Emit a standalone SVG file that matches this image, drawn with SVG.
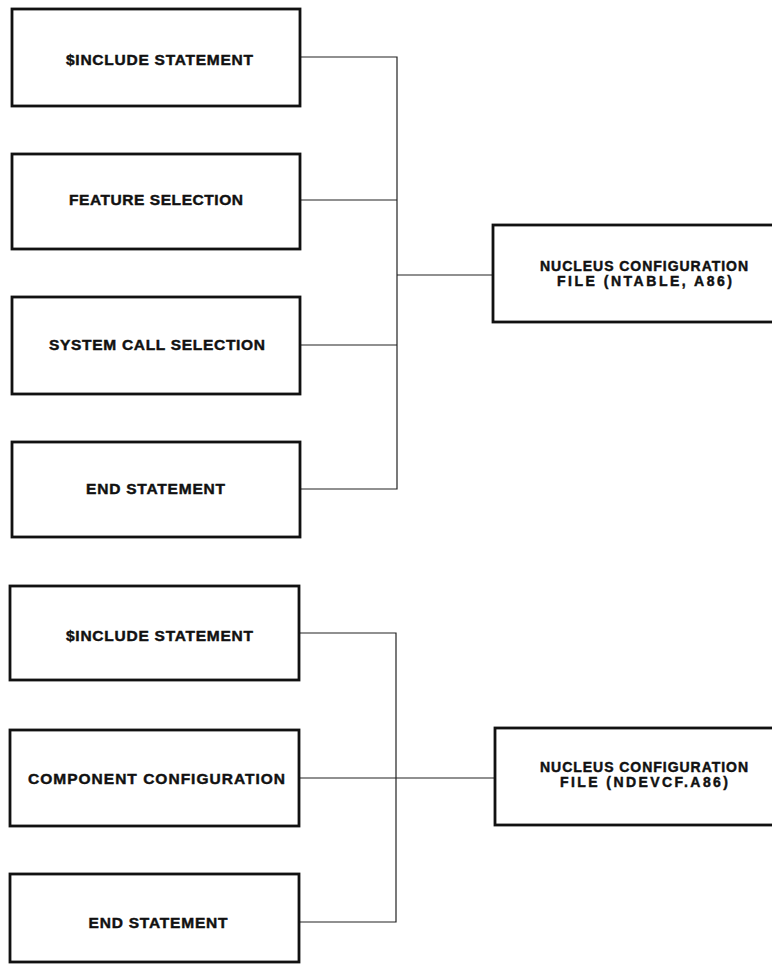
<svg xmlns="http://www.w3.org/2000/svg" width="772" height="967" viewBox="0 0 772 967">
<style>
.box{fill:#fff;stroke:#111;stroke-width:2.8}
.lbl{font-family:"Liberation Sans",Arial,sans-serif;font-weight:bold;font-size:15.5px;fill:#111;stroke:#111;stroke-width:0.45;text-anchor:middle}
.sm{font-size:14px}
.con{fill:none;stroke:#222;stroke-width:1.2}
</style>
<rect width="772" height="967" fill="#fff"/>
<g id="connectors">
<polyline class="con" points="300,57 397,57 397,489 300,489"/>
<line class="con" x1="300" y1="200" x2="397" y2="200"/>
<line class="con" x1="300" y1="345" x2="397" y2="345"/>
<line class="con" x1="397" y1="275" x2="493" y2="275"/>
<polyline class="con" points="299,633 396,633 396,922 299,922"/>
<line class="con" x1="299" y1="778" x2="495" y2="778"/>
</g>
<g id="n1"><rect class="box" x="12" y="9" width="288" height="97"/><text class="lbl" x="159.5" y="64.5" textLength="187" lengthAdjust="spacing">$INCLUDE STATEMENT</text></g>
<g id="n2"><rect class="box" x="12" y="154" width="288" height="95"/><text class="lbl" x="156" y="204.5" textLength="174" lengthAdjust="spacing">FEATURE SELECTION</text></g>
<g id="n3"><rect class="box" x="12" y="297" width="288" height="97"/><text class="lbl" x="157" y="349.5" textLength="216" lengthAdjust="spacing">SYSTEM CALL SELECTION</text></g>
<g id="n4"><rect class="box" x="12" y="442" width="288" height="95"/><text class="lbl" x="155.5" y="493.5" textLength="139" lengthAdjust="spacing">END STATEMENT</text></g>
<g id="n5"><rect class="box" x="493" y="225" width="285" height="97"/><text class="lbl sm" x="644" y="271" textLength="208" lengthAdjust="spacing">NUCLEUS CONFIGURATION</text><text class="lbl sm" x="644.5" y="285.5" textLength="175" lengthAdjust="spacing">FILE (NTABLE, A86)</text></g>
<g id="n6"><rect class="box" x="10" y="586" width="289" height="94"/><text class="lbl" x="159.5" y="640.5" textLength="187" lengthAdjust="spacing">$INCLUDE STATEMENT</text></g>
<g id="n7"><rect class="box" x="10" y="730" width="289" height="96"/><text class="lbl" x="156.5" y="783.5" textLength="257" lengthAdjust="spacing">COMPONENT CONFIGURATION</text></g>
<g id="n8"><rect class="box" x="10" y="874" width="289" height="88"/><text class="lbl" x="158" y="927.5" textLength="139" lengthAdjust="spacing">END STATEMENT</text></g>
<g id="n9"><rect class="box" x="495" y="728" width="285" height="97"/><text class="lbl sm" x="644" y="772" textLength="208" lengthAdjust="spacing">NUCLEUS CONFIGURATION</text><text class="lbl sm" x="644" y="786.5" textLength="168" lengthAdjust="spacing">FILE (NDEVCF.A86)</text></g>
</svg>
